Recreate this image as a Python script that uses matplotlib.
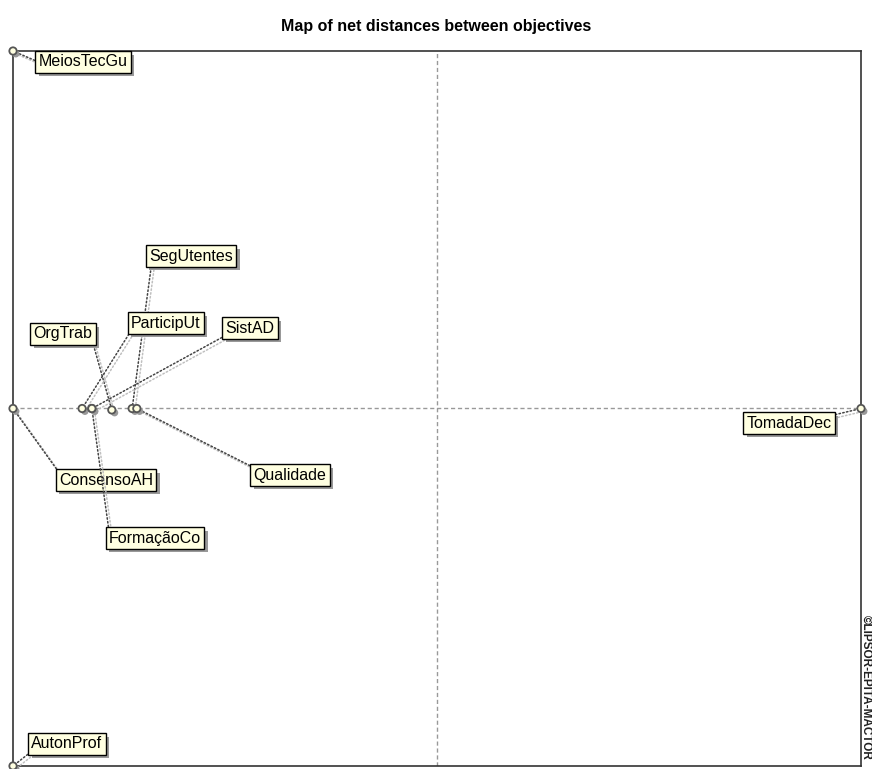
import matplotlib
matplotlib.use("Agg")
import matplotlib.pyplot as plt
import matplotlib.patheffects as pe

# Objetivos y coordenadas (distancias netas)
objetivos = ['MeiosTecGu', 'SegUtentes', 'OrgTrab', 'ParticipUt', 'SistAD',
             'TomadaDec', 'Qualidade', 'ConsensoAH', 'FormaçãoCo', 'AutonProf']
x_vals = [-1.0, -0.719, -0.767, -0.837, -0.814, 1.0, -0.708, -1.0, -0.814, -1.0]
y_vals = [1.0, 0.0, -0.004, 0.0, 0.0, 0.0, 0.0, 0.0, 0.0, -1.0]

# posiciones de las etiquetas (en pixeles de la figura) y punto de salida de la linea
etiquetas_px = [(83, 62), (191, 256), (63, 334), (166, 323), (250, 328),
                (789, 423), (290, 475), (106, 480), (155, 538), (67, 744)]
salida = [(0, 0.5), (0.03, 0), (1, 0), (0, 0), (0, 0),
          (1, 1), (0, 1), (0, 1), (0, 1), (0, 0)]

W, H = 872, 769
fig = plt.figure(figsize=(W / 100, H / 100), dpi=100)
ax = fig.add_axes([13 / W, 1 - 766 / H, (861 - 13) / W, (766 - 51) / H])
ax.set_xlim(-1, 1)
ax.set_ylim(-1, 1)
ax.set_xticks([])
ax.set_yticks([])
for s in ax.spines.values():
    s.set_color('#333333')
    s.set_linewidth(1.2)

ax.axhline(0, color='#999999', linestyle=(0, (3, 2)), linewidth=1, zorder=1)
ax.axvline(0, color='#999999', linestyle=(0, (3, 2)), linewidth=1, zorder=1)

fig.text(436 / W, 1 - 27 / H, 'Map of net distances between objectives',
         ha='center', va='center', fontsize=11.5, fontweight='bold',
         family='Liberation Sans')

sombra = [pe.SimplePatchShadow(offset=(2.5, -2.5), shadow_rgbFace='#999999', alpha=1), pe.Normal()]

for nombre, x, y, (px, py), rp in zip(objetivos, x_vals, y_vals, etiquetas_px, salida):
    ann = ax.annotate(nombre, xy=(x, y), xytext=(px / W, 1 - py / H),
                      textcoords='figure fraction', ha='center', va='center',
                      fontsize=11.5, family='Liberation Sans', zorder=5,
                      bbox=dict(boxstyle='square,pad=0.2', facecolor='#ffffe1',
                                edgecolor='black', linewidth=1),
                      arrowprops=dict(arrowstyle='-', color='#444444',
                                      linestyle=(0, (1, 1.5)), linewidth=1.1,
                                      shrinkA=0, shrinkB=0, relpos=rp),
                      annotation_clip=False)
    ann.get_bbox_patch().set_path_effects(sombra)
    ann.arrow_patch.set_path_effects([pe.SimpleLineShadow(offset=(2, -2), shadow_color='#c0c0c0', alpha=1), pe.Normal()])

ax.scatter(x_vals, y_vals, s=28, facecolor='#ffffe1', edgecolor='#555555',
           linewidth=1.3, zorder=6, clip_on=False,
           path_effects=[pe.SimplePatchShadow(offset=(2, -2), shadow_rgbFace='#999999', alpha=1), pe.Normal()])

fig.text(866 / W, 1 - 687 / H, '©LIPSOR-EPITA-MACTOR', rotation=-90,
         ha='center', va='center', fontsize=8.5, fontweight='bold',
         family='Liberation Sans', color='#222222')

fig.savefig('out.png', dpi=100)
